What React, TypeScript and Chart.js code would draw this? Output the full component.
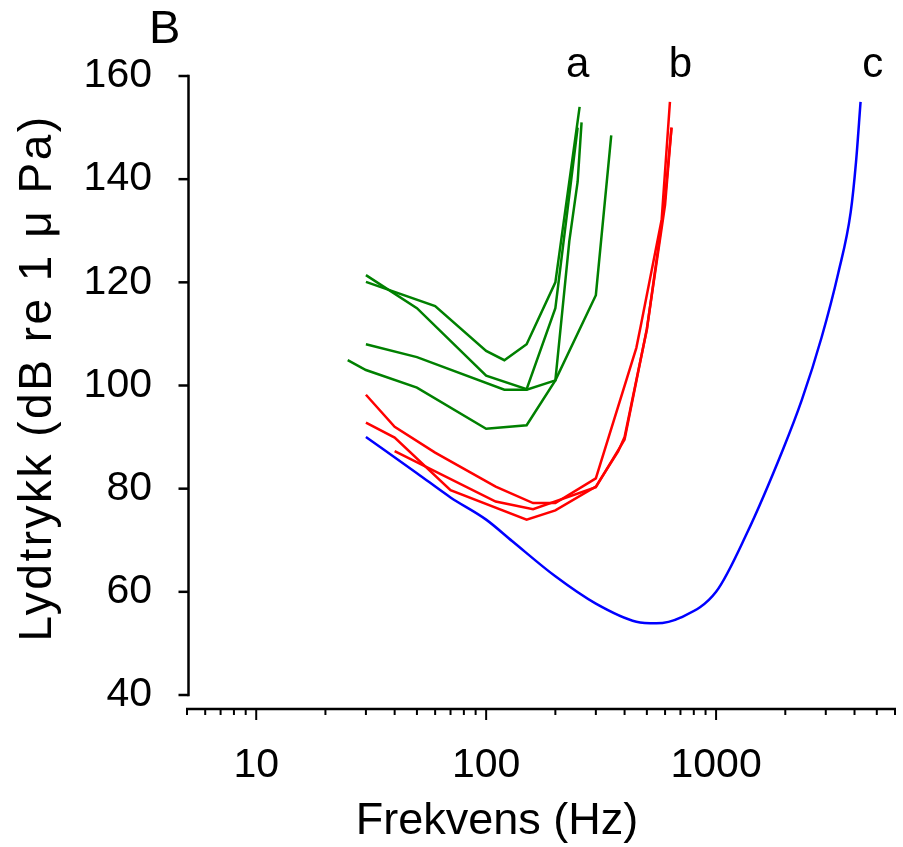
import React, { useEffect, useRef } from "react";
import { Chart, registerables } from "chart.js";

Chart.register(...registerables);

const FONT = '"Liberation Sans", Arial, Helvetica, sans-serif';

// Group a (green)
const a1Freq = [30, 50, 100, 150, 200, 250];
const a1Level = [121.4, 115, 101.9, 99.3, 115, 150];
const a2Freq = [30, 60, 100, 120, 150, 200, 255];
const a2Level = [120.1, 115.4, 106.7, 104.9, 108, 120, 154];
const a3Freq = [30, 50, 120, 150, 200, 230, 250, 260];
const a3Level = [108, 105.5, 99.2, 99.2, 101, 128, 139.5, 151];
const a4Freq = [25, 30, 50, 100, 150, 200, 300, 350];
const a4Level = [104.9, 103, 99.6, 91.6, 92.3, 101, 117.5, 148.5];

// Group b (red)
const b1Freq = [30, 40, 60, 110, 160, 200, 300, 450, 470, 580, 630];
const b1Level = [98.2, 92, 87, 80.4, 77.2, 77.2, 82, 107.3, 111.5, 132.2, 155];
const b2Freq = [30, 40, 70, 150, 200, 300, 375, 400, 460, 500, 580, 600, 640];
const b2Level = [92.8, 89.9, 79.7, 74, 75.8, 80.4, 87.2, 90, 103.1, 110.8, 131.5, 136.4, 150];
const b3Freq = [40, 110, 160, 300, 400, 500, 600, 640];
const b3Level = [87.3, 77.5, 76, 80.3, 89.5, 111, 135, 150];

// Curve c (blue)
const cFreq = [30, 50, 70, 100, 130, 200, 300, 450, 550, 700, 1000, 1360, 1950, 2360, 2880, 3400, 3850, 4060, 4250];
const cLevel = [90, 83, 78.3, 74, 69.8, 63, 57.7, 54.2, 53.9, 55, 60, 71.3, 87.5, 97.2, 109.4, 121.8, 133.6, 143.3, 155];

// Axes
const yTickValues = [40, 60, 80, 100, 120, 140, 160];
const xMajorTicks = [10, 100, 1000];
const xMinorTicks = [5, 6, 7, 8, 9, 20, 30, 40, 50, 60, 70, 80, 90, 200, 300, 400, 500, 600, 700, 800, 900, 2000, 3000, 4000, 5000, 6000];
const curveLabels = ["a", "b", "c"];
const curveLabelFreqs = [250, 700, 4800];

const panelLetter = "B";
const xTitle = "Frekvens (Hz)";
const yTitle = "Lydtrykk (dB re 1 \u03bc Pa)";

const GREEN = "#008000";
const RED = "#ff0000";
const BLUE = "#0000ff";

function pts(f: number[], l: number[]) {
  return f.map((x, i) => ({ x, y: l[i] }));
}

const decorPlugin = {
  id: "decor",
  afterDraw(chart: any) {
    const { ctx, chartArea } = chart;
    const x = chart.scales.x;
    const y = chart.scales.y;
    ctx.save();
    ctx.strokeStyle = "#000";
    ctx.fillStyle = "#000";
    ctx.lineWidth = 2.5;
    ctx.lineCap = "butt";
    // Y axis
    const yAxisX = chartArea.left + 1.5;
    const yTop = y.getPixelForValue(160);
    const yBot = y.getPixelForValue(40);
    ctx.beginPath();
    ctx.moveTo(yAxisX, yTop - 1.2);
    ctx.lineTo(yAxisX, yBot + 1.2);
    ctx.stroke();
    for (const v of yTickValues) {
      const py = y.getPixelForValue(v);
      ctx.beginPath();
      ctx.moveTo(yAxisX - 10, py);
      ctx.lineTo(yAxisX, py);
      ctx.stroke();
    }
    // X axis (offset below)
    const ax = chartArea.bottom + 14;
    ctx.beginPath();
    ctx.moveTo(x.getPixelForValue(5) - 1, ax);
    ctx.lineTo(x.getPixelForValue(6000) + 1, ax);
    ctx.stroke();
    ctx.lineWidth = 2;
    for (const v of xMinorTicks) {
      const px = x.getPixelForValue(v);
      ctx.beginPath();
      ctx.moveTo(px, ax);
      ctx.lineTo(px, ax + 6);
      ctx.stroke();
    }
    for (const v of xMajorTicks) {
      const px = x.getPixelForValue(v);
      ctx.beginPath();
      ctx.moveTo(px, ax);
      ctx.lineTo(px, ax + 11);
      ctx.stroke();
    }
    // Curve labels
    ctx.font = `42px ${FONT}`;
    ctx.textAlign = "center";
    ctx.textBaseline = "alphabetic";
    curveLabels.forEach((t, i) => {
      ctx.fillText(t, x.getPixelForValue(curveLabelFreqs[i]), chartArea.top + 0.5);
    });
    // Panel letter
    ctx.font = `47px ${FONT}`;
    ctx.textAlign = "left";
    ctx.fillText(panelLetter, 149, 43);
    // Axis titles
    ctx.font = `45px ${FONT}`;
    ctx.textAlign = "center";
    ctx.textBaseline = "middle";
    ctx.fillText(xTitle, 497, 822);
    ctx.translate(38, 378);
    ctx.rotate(-Math.PI / 2);
    ctx.font = `46px ${FONT}`;
    try {
      (ctx as any).letterSpacing = "2.5px";
    } catch (e) {}
    ctx.fillText(yTitle, 0, 0);
    try {
      (ctx as any).letterSpacing = "0px";
    } catch (e) {}
    ctx.restore();
  },
};

export default function App() {
  const ref = useRef<HTMLCanvasElement | null>(null);
  useEffect(() => {
    document.body.style.margin = "0";
    if (!ref.current) return;
    const mk = (f: number[], l: number[], color: string, smooth = false) => ({
      data: pts(f, l),
      borderColor: color,
      backgroundColor: color,
      borderWidth: 2.5,
      pointRadius: 0,
      fill: false,
      tension: 0,
      cubicInterpolationMode: smooth ? "monotone" : "default",
    });
    const chart = new Chart(ref.current, {
      type: "line",
      data: {
        datasets: [
          mk(a1Freq, a1Level, GREEN),
          mk(a2Freq, a2Level, GREEN),
          mk(a3Freq, a3Level, GREEN),
          mk(a4Freq, a4Level, GREEN),
          mk(b1Freq, b1Level, RED),
          mk(b2Freq, b2Level, RED),
          mk(b3Freq, b3Level, RED),
          mk(cFreq, cLevel, BLUE, true),
        ] as any,
      },
      options: {
        animation: false,
        responsive: true,
        maintainAspectRatio: false,
        layout: { padding: { top: 76, right: 8, left: 0, bottom: 0 } },
        plugins: { legend: { display: false }, tooltip: { enabled: false } },
        elements: { point: { radius: 0 } },
        scales: {
          x: {
            type: "logarithmic",
            min: 5,
            max: 6000,
            grid: { display: false },
            border: { display: false },
            afterBuildTicks: (s: any) => {
              s.ticks = xMajorTicks.map((v) => ({ value: v }));
            },
            afterFit: (s: any) => {
              s.height = 152;
            },
            ticks: {
              autoSkip: false,
              maxRotation: 0,
              color: "#000",
              padding: 38,
              font: { size: 41, family: FONT },
              callback: (v: any) => String(v),
            },
          },
          y: {
            min: 40,
            max: 160,
            grid: { display: false },
            border: { display: false },
            afterBuildTicks: (s: any) => {
              s.ticks = yTickValues.map((v) => ({ value: v }));
            },
            afterFit: (s: any) => {
              s.width = 187;
            },
            ticks: {
              color: "#000",
              padding: 27,
              font: { size: 41, family: FONT },
              callback: (v: any) => String(v),
            },
          },
        },
      } as any,
      plugins: [decorPlugin],
    });
    return () => chart.destroy();
  }, []);
  return (
    <div style={{ width: 903, height: 847, position: "relative" }}>
      <canvas ref={ref} />
    </div>
  );
}
